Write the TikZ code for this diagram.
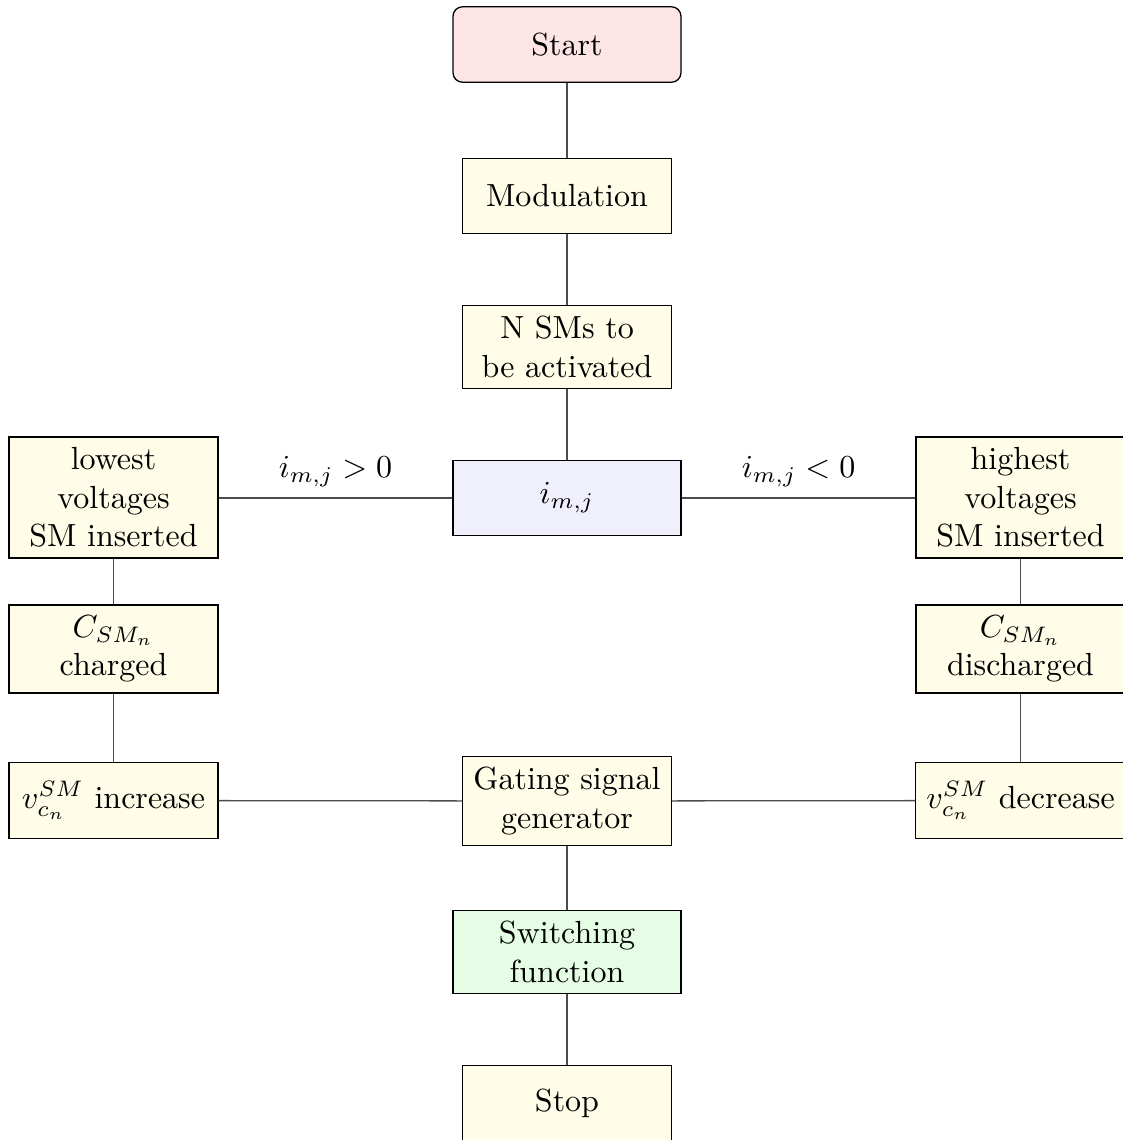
\documentclass[tikz,border=0pt]{standalone}
\usepackage{amsmath}
\definecolor{cream}{RGB}{255,252,232}
\definecolor{startpink}{RGB}{253,229,230}
\definecolor{iblue}{RGB}{240,240,252}
\definecolor{swgreen}{RGB}{228,253,228}
\begin{document}
\begin{tikzpicture}[x=0.3125pt,y=-0.3125pt,
  box/.style={draw=black, fill=cream, align=center, minimum width=65.3pt, minimum height=23.6pt, inner sep=3.33pt},
  wide/.style={box, minimum width=71.25pt},
  conn/.style={draw=black!70, line width=0.4pt}]
\useasboundingbox (0,0) rectangle (1122,1140);
\node[wide, fill=startpink, rounded corners=3pt] (start) at (567,44.5) {Start};
\node[box] (mod) at (567,196) {Modulation};
\node[box] (nsm) at (567,347) {N SMs to\\be activated};
\node[wide, fill=iblue] (imj) at (567,498) {$i_{m,j}$};
\node[box] (low) at (113.5,497.5) {lowest\\voltages\\SM inserted};
\node[box] (high) at (1020.5,497.5) {highest\\voltages\\SM inserted};
\node[box] (cch) at (113.5,649) {$C_{SM_n}$\\charged};
\node[box] (cdis) at (1020.5,649) {$C_{SM_n}$\\discharged};
\node[box] (vinc) at (113.5,800.5) {$v_{c_n}^{SM}$ increase};
\node[box] (vdec) at (1020.5,800.5) {$v_{c_n}^{SM}$ decrease};
\node[box] (gate) at (567,801) {Gating signal\\generator};
\node[wide, fill=swgreen] (sw) at (567,952) {Switching\\function};
\node[box] (stop) at (567,1103) {Stop};
\path[conn] (start) -- (mod);
\path[conn] (mod) -- (nsm);
\path[conn] (nsm) -- (imj);
\path[conn] (imj) -- node[above=0pt, black] (lp) {$i_{m,j} > 0$} (low.east |- imj);
\path[conn] (imj) -- node[above=0pt, black] (ln) {$i_{m,j} < 0$} (high.west |- imj);
\path[conn] (low) -- (cch);
\path[conn] (cch) -- (vinc);
\path[conn] (high) -- (cdis);
\path[conn] (cdis) -- (vdec);
\path[conn] (vinc) -- (gate);
\path[conn] (vdec) -- (gate);
\path[conn] (gate) -- (sw);
\path[conn] (sw) -- (stop);
\end{tikzpicture}
\end{document}
